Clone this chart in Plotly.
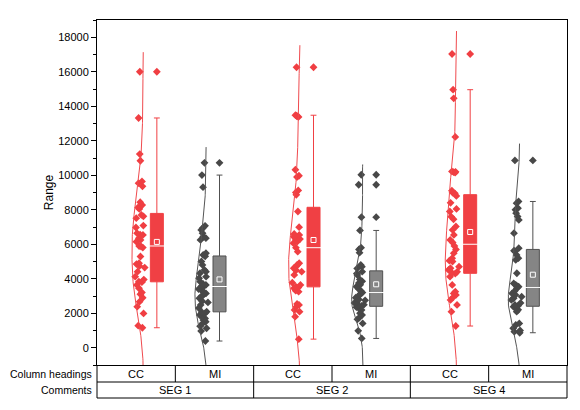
import numpy as np
import plotly.graph_objects as go

# ---------------- data ----------------
groups = ["SEG 1", "SEG 2", "SEG 4"]
headings = ["CC", "MI"]
row_labels = ["Column headings", "Comments"]

seg1_cc = [16000, 13320, 11230, 10840, 9640, 9540, 9360, 8440, 8270, 8130, 8050, 7700, 7620,
           7510, 7080, 6970, 6640, 6560, 6540, 6350, 6250, 6150, 5870, 5900, 5810, 5290, 4900,
           4850, 4740, 4650, 4410, 4120, 3950, 3830, 3800, 3640, 3450, 3210, 3100, 2900, 2670,
           2380, 1990, 1280, 1160]
seg1_mi = [10720, 10010, 9310, 7070, 6930, 6830, 6640, 6450, 6350, 6250, 5480, 5380, 5300,
           5000, 4800, 4510, 4410, 4320, 4120, 4030, 3830, 3700, 3640, 3600, 3550, 3400, 3300,
           3210, 3150, 3060, 3000, 2870, 2700, 2630, 2480, 2300, 2090, 2060, 1990, 1900, 1800,
           1700, 1610, 1510, 1400, 1250, 1130, 970, 390]
seg2_cc = [16260, 13480, 13450, 13420, 13380, 10320, 9970, 9900, 9120, 9000, 8870, 7900, 6990,
           6600, 6540, 6450, 6400, 6350, 6300, 6250, 6150, 6060, 5800, 5570, 4900, 4800, 4700,
           4610, 4500, 4410, 4220, 3770, 3640, 3540, 3500, 3450, 3310, 3250, 2540, 2480, 2380,
           2190, 2090, 1800, 500]
seg2_mi = [10030, 9450, 7570, 6800, 5800, 5700, 5510, 4800, 4700, 4600, 4410, 4300, 4220,
           3960, 3850, 3750, 3650, 3540, 3400, 3300, 3200, 3100, 3000, 2900, 2800, 2750, 2650,
           2600, 2500, 2450, 2420, 2350, 2300, 2190, 2000, 1900, 1750, 1650, 1410, 980, 540]
seg4_cc = [17030, 14960, 14460, 12220, 10220, 10200, 10180, 10150, 9100, 9000, 8950, 8800,
           8400, 8050, 7900, 7600, 7450, 7030, 6830, 6540, 6250, 6100, 5900, 5700, 5480, 5190,
           5050, 5000, 4700, 4610, 4510, 4400, 4330, 4300, 4120, 3640, 3250, 3150, 3060, 2920,
           2770, 2480, 2090, 1260]
seg4_mi = [10860, 8480, 8380, 8090, 8000, 7800, 7610, 7410, 6640, 5770, 5630, 5580, 5380,
           5190, 5090, 4320, 3730, 3640, 3560, 3540, 3450, 3300, 3150, 3060, 2960, 2870, 2770,
           2600, 2480, 2430, 2380, 2290, 2200, 2090, 1410, 1320, 1130, 1000, 930, 870]

columns = [seg1_cc, seg1_mi, seg2_cc, seg2_mi, seg4_cc, seg4_mi]

y_ticks = list(range(0, 18001, 2000))

# ---------------- styles ----------------
FONT = "Liberation Sans, Arial, sans-serif"
style = {
    "CC": dict(pt="#F03E42", curve="#F04A4E", fill="#F04044", edge="#F04044",
               base=0.096, box=0.264),
    "MI": dict(pt="#484848", curve="#555555", fill="#858585", edge="#505050",
               base=-0.100, box=0.064),
}
HALF_W = 0.15      # max half-violin extent (x units)
BOX_W = 0.166      # box width (x units)
PT_W = 0.15        # jitter band width (x units)
PT_SHIFT = 0.04    # jitter band centre, left of the violin base (x units)

# page body has an 8px margin: figure is sized so the plot sits where the reference has it
PAGE_PAD = 8
FIG_W, FIG_H = 580 - PAGE_PAD, 410 - PAGE_PAD
M_L, M_R, M_T, M_B = 97 - PAGE_PAD, 13, 20 - PAGE_PAD, 45


def kde_curve(vals):
    v = np.asarray(vals, float)
    n = len(v)
    q1, q3 = np.percentile(v, [25, 75])
    bw = 1.059 * min(v.std(ddof=1), (q3 - q1) / 1.349) * n ** -0.2
    grid = np.linspace(v.min() - 3 * bw, v.max() + 0.8 * bw, 240)
    dens = np.exp(-0.5 * ((grid[:, None] - v[None, :]) / bw) ** 2).sum(1)
    return grid, dens / dens.max()


fig = go.Figure()

for i, vals in enumerate(columns):
    head = headings[i % 2]
    st = style[head]
    v = np.asarray(vals, float)
    base = i + st["base"]
    bx = i + st["box"]

    # density curve (half violin, left side)
    g, d = kde_curve(v)
    fig.add_trace(go.Scatter(x=base - HALF_W * d, y=g, mode="lines",
                             line=dict(color=st["curve"], width=1), hoverinfo="skip"))

    # jittered raw points inside the half violin
    fig.add_trace(go.Box(y=v, x=[base - PT_SHIFT] * len(v), width=PT_W,
                         boxpoints="all", jitter=1, pointpos=0,
                         fillcolor="rgba(0,0,0,0)",
                         line=dict(width=0, color="rgba(0,0,0,0)"),
                         marker=dict(symbol="diamond", size=6, color=st["pt"]),
                         hoverinfo="y"))

    # box plot with outliers
    fig.add_trace(go.Box(y=v, x=[bx] * len(v), width=BOX_W,
                         boxpoints="outliers", jitter=0, pointpos=0,
                         whiskerwidth=0.45,
                         fillcolor=st["fill"],
                         line=dict(width=1, color=st["edge"]),
                         marker=dict(symbol="diamond", size=6, color=st["pt"],
                                     outliercolor=st["pt"]),
                         hoverinfo="y"))

    # white median line and mean square
    fig.add_trace(go.Scatter(x=[bx], y=[np.percentile(v, 50)], mode="markers",
                             marker=dict(symbol="line-ew", size=12,
                                         line=dict(color="white", width=1)),
                             hoverinfo="skip"))
    fig.add_trace(go.Scatter(x=[bx], y=[v.mean()], mode="markers",
                             marker=dict(symbol="square", size=5, color=st["fill"],
                                         line=dict(color="white", width=1)),
                             hoverinfo="skip"))

# ---------------- table under the plot ----------------
plot_h = FIG_H - M_T - M_B
r1 = -17 / plot_h
r2 = -33 / plot_h
ncol = len(columns)
shapes = []
line = dict(color="black", width=1)
for xp in (0, 1):
    shapes.append(dict(type="line", xref="paper", yref="paper", x0=xp, x1=xp, y0=0, y1=r2, line=line))
for yp in (r1, r2):
    shapes.append(dict(type="line", xref="paper", yref="paper", x0=0, x1=1, y0=yp, y1=yp, line=line))
for k in range(1, ncol):
    xp = k / ncol
    shapes.append(dict(type="line", xref="paper", yref="paper", x0=xp, x1=xp, y0=0, y1=r1, line=line))
    if k % 2 == 0:
        shapes.append(dict(type="line", xref="paper", yref="paper", x0=xp, x1=xp, y0=r1, y1=r2, line=line))

annotations = []
for i in range(ncol):
    annotations.append(dict(text=headings[i % 2], xref="paper", yref="paper",
                            x=(i + 0.5) / ncol, y=r1 / 2, showarrow=False,
                            xanchor="center", yanchor="middle", font=dict(size=11)))
for j, gname in enumerate(groups):
    annotations.append(dict(text=gname, xref="paper", yref="paper",
                            x=(2 * j + 1) / ncol, y=(r1 + r2) / 2, showarrow=False,
                            xanchor="center", yanchor="middle", font=dict(size=11)))
for lab, yp in zip(row_labels, (r1 / 2, (r1 + r2) / 2)):
    annotations.append(dict(text=lab, xref="paper", yref="paper", x=0, xshift=-3, y=yp,
                            showarrow=False, xanchor="right", yanchor="middle",
                            font=dict(size=10.5)))

fig.update_layout(
    width=FIG_W, height=FIG_H,
    margin=dict(l=M_L, r=M_R, t=M_T, b=M_B),
    plot_bgcolor="white", paper_bgcolor="white",
    showlegend=False, boxmode="overlay",
    font=dict(family=FONT, size=11, color="black"),
    shapes=shapes, annotations=annotations,
)
fig.update_xaxes(range=[-0.5, 5.5], showticklabels=False, ticks="", showgrid=False,
                 zeroline=False, showline=True, linecolor="black", linewidth=1, mirror=True)
fig.update_yaxes(range=[-1000, 19000], tickvals=y_ticks, tickformat="d",
                 ticks="outside", ticklen=5, tickwidth=1, tickcolor="black",
                 minor=dict(dtick=1000, tick0=0, ticks="outside", ticklen=3,
                            tickcolor="black"),
                 showgrid=False, zeroline=False, showline=True, linecolor="black",
                 linewidth=1, mirror=True,
                 title=dict(text="Range", standoff=2, font=dict(size=12)),
                 tickfont=dict(size=11))

fig.write_html("out.html")
